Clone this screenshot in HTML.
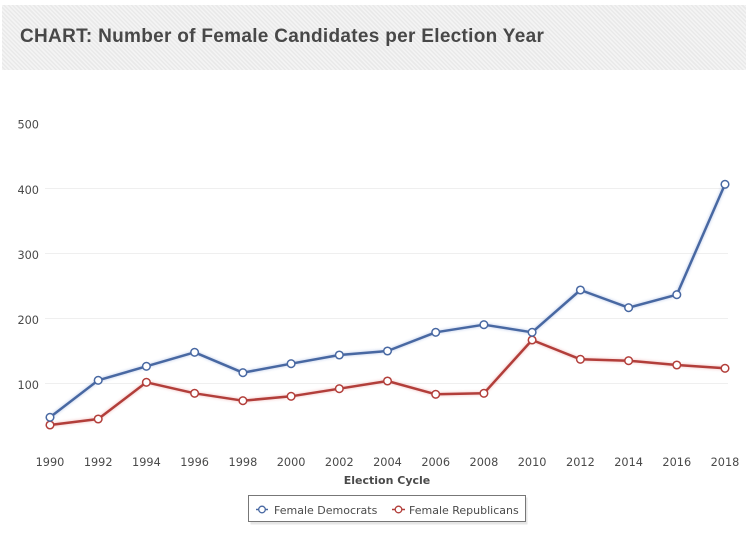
<!DOCTYPE html>
<html>
<head>
<meta charset="utf-8">
<style>
  html, body { margin:0; padding:0; background:#fff; }
  body { width:750px; height:535px; position:relative; overflow:hidden; }
  .band {
    position:absolute; left:2px; top:5px; width:744px; height:65px;
    background: repeating-linear-gradient(45deg, #f4f4f4 0px, #f4f4f4 1.5px, #e9e9e9 1.5px, #e9e9e9 3px);
  }
  .title {
    position:absolute; left:20px; top:25px;
    font-family:"Liberation Sans", sans-serif; font-weight:bold;
    font-size:19px; letter-spacing:0.3px; color:#484848; white-space:nowrap;
    line-height:24px;
  }
  svg { position:absolute; left:0; top:0; }
</style>
</head>
<body>
<div class="band"></div>
<div class="title">CHART: Number of Female Candidates per Election Year</div>
<svg width="750" height="535" viewBox="0 0 750 535" xmlns="http://www.w3.org/2000/svg">
  <defs>
    <filter id="glow" x="-5%" y="-5%" width="110%" height="110%">
      <feGaussianBlur stdDeviation="1.2"/>
    </filter>
  </defs>
  <!-- gridlines -->
  <g stroke="#efefef" stroke-width="1">
    <line x1="45" y1="188.5" x2="728" y2="188.5"/>
    <line x1="45" y1="253.5" x2="728" y2="253.5"/>
    <line x1="45" y1="318.5" x2="728" y2="318.5"/>
    <line x1="45" y1="383.5" x2="728" y2="383.5"/>
  </g>
  <!-- y labels -->
  <g font-family="DejaVu Sans, sans-serif" font-size="11.3" fill="#4a4a4a" text-anchor="end">
    <text x="39" y="128.5">500</text>
    <text x="39" y="194">400</text>
    <text x="39" y="259">300</text>
    <text x="39" y="324">200</text>
    <text x="39" y="389">100</text>
  </g>
  <!-- x labels -->
  <g font-family="DejaVu Sans, sans-serif" font-size="11.3" fill="#4a4a4a" text-anchor="middle">
    <text x="50" y="466">1990</text>
    <text x="98.2" y="466">1992</text>
    <text x="146.4" y="466">1994</text>
    <text x="194.6" y="466">1996</text>
    <text x="242.9" y="466">1998</text>
    <text x="291.1" y="466">2000</text>
    <text x="339.3" y="466">2002</text>
    <text x="387.5" y="466">2004</text>
    <text x="435.7" y="466">2006</text>
    <text x="483.9" y="466">2008</text>
    <text x="532.1" y="466">2010</text>
    <text x="580.4" y="466">2012</text>
    <text x="628.6" y="466">2014</text>
    <text x="676.8" y="466">2016</text>
    <text x="725" y="466">2018</text>
  </g>
  <text x="387" y="484" font-family="DejaVu Sans, sans-serif" font-size="11" font-weight="bold" fill="#4a4a4a" text-anchor="middle">Election Cycle</text>

  <!-- glow -->
  <g fill="none" stroke-width="4" filter="url(#glow)" opacity="0.3" stroke-linejoin="round">
    <polyline stroke="#6a8ad0" points="50,417.3 98.2,380.3 146.4,366.3 194.6,352.3 242.9,372.7 291.1,363.7 339.3,355 387.5,351 435.7,332.3 483.9,324.7 532.1,332.3 580.4,290 628.6,307.7 676.8,294.7 725,184.3"/>
    <polyline stroke="#e07070" points="50,425 98.2,419 146.4,382.3 194.6,393.3 242.9,400.7 291.1,396.3 339.3,388.7 387.5,381 435.7,394.3 483.9,393.3 532.1,340 580.4,359.3 628.6,360.7 676.8,365 725,368.3"/>
  </g>
  <!-- Republicans -->
  <polyline fill="none" stroke="#b23e3a" stroke-width="2.5" stroke-linejoin="round" points="50,425 98.2,419 146.4,382.3 194.6,393.3 242.9,400.7 291.1,396.3 339.3,388.7 387.5,381 435.7,394.3 483.9,393.3 532.1,340 580.4,359.3 628.6,360.7 676.8,365 725,368.3"/>
  <!-- Democrats -->
  <polyline fill="none" stroke="#4868a2" stroke-width="2.5" stroke-linejoin="round" points="50,417.3 98.2,380.3 146.4,366.3 194.6,352.3 242.9,372.7 291.1,363.7 339.3,355 387.5,351 435.7,332.3 483.9,324.7 532.1,332.3 580.4,290 628.6,307.7 676.8,294.7 725,184.3"/>
  <!-- markers Rep -->
  <g fill="#fff" stroke="#b23e3a" stroke-width="1.5">
    <circle cx="50" cy="425" r="3.8"/><circle cx="98.2" cy="419" r="3.8"/><circle cx="146.4" cy="382.3" r="3.8"/>
    <circle cx="194.6" cy="393.3" r="3.8"/><circle cx="242.9" cy="400.7" r="3.8"/><circle cx="291.1" cy="396.3" r="3.8"/>
    <circle cx="339.3" cy="388.7" r="3.8"/><circle cx="387.5" cy="381" r="3.8"/><circle cx="435.7" cy="394.3" r="3.8"/>
    <circle cx="483.9" cy="393.3" r="3.8"/><circle cx="532.1" cy="340" r="3.8"/><circle cx="580.4" cy="359.3" r="3.8"/>
    <circle cx="628.6" cy="360.7" r="3.8"/><circle cx="676.8" cy="365" r="3.8"/><circle cx="725" cy="368.3" r="3.8"/>
  </g>
  <!-- markers Dem -->
  <g fill="#fff" stroke="#4868a2" stroke-width="1.5">
    <circle cx="50" cy="417.3" r="3.8"/><circle cx="98.2" cy="380.3" r="3.8"/><circle cx="146.4" cy="366.3" r="3.8"/>
    <circle cx="194.6" cy="352.3" r="3.8"/><circle cx="242.9" cy="372.7" r="3.8"/><circle cx="291.1" cy="363.7" r="3.8"/>
    <circle cx="339.3" cy="355" r="3.8"/><circle cx="387.5" cy="351" r="3.8"/><circle cx="435.7" cy="332.3" r="3.8"/>
    <circle cx="483.9" cy="324.7" r="3.8"/><circle cx="532.1" cy="332.3" r="3.8"/><circle cx="580.4" cy="290" r="3.8"/>
    <circle cx="628.6" cy="307.7" r="3.8"/><circle cx="676.8" cy="294.7" r="3.8"/><circle cx="725" cy="184.3" r="3.8"/>
  </g>

  <!-- legend -->
  <rect x="250.5" y="497.5" width="277" height="27" fill="#e6e6e6" stroke="none"/>
  <rect x="248.5" y="495.5" width="277" height="26" fill="#fff" stroke="#777" stroke-width="1"/>
  <line x1="256" y1="509.5" x2="268" y2="509.5" stroke="#4868a2" stroke-width="1.5"/>
  <circle cx="262" cy="509.5" r="3.3" fill="#fff" stroke="#4868a2" stroke-width="1.3"/>
  <text x="274" y="514" font-family="DejaVu Sans, sans-serif" font-size="11" fill="#4a4a4a">Female Democrats</text>
  <line x1="392" y1="509.5" x2="405" y2="509.5" stroke="#b23e3a" stroke-width="1.5"/>
  <circle cx="398.5" cy="509.5" r="3.3" fill="#fff" stroke="#b23e3a" stroke-width="1.3"/>
  <text x="409" y="514" font-family="DejaVu Sans, sans-serif" font-size="11" fill="#4a4a4a">Female Republicans</text>
</svg>
</body>
</html>
